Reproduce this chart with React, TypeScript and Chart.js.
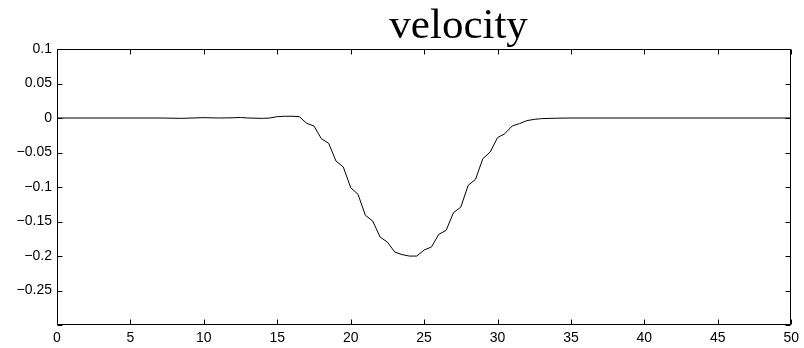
import React, { useEffect, useRef } from "react";
import { Chart, registerables } from "chart.js";

Chart.register(...registerables);

// Sample times (s) and velocity readings
const times: number[] = [
  0, 7, 8.5, 10, 11, 12, 12.5, 13, 14, 14.5, 15, 15.5, 16, 16.5, 17, 17.5, 18,
  18.5, 19, 19.5, 20, 20.5, 21, 21.5, 22, 22.5, 23, 23.5, 24, 24.5, 25, 25.5,
  26, 26.5, 27, 27.5, 28, 28.5, 29, 29.5, 30, 30.5, 31, 31.5, 32, 32.5, 33, 34,
  35, 50,
];
const velocity: number[] = [
  0, 0, -0.0005, 0.0005, 0, 0.0003, 0.0008, 0, -0.0005, 0, 0.002, 0.0025,
  0.0025, 0.002, -0.0077, -0.0116, -0.03, -0.0367, -0.0624, -0.0711, -0.101,
  -0.1106, -0.141, -0.1493, -0.1725, -0.1798, -0.1943, -0.198, -0.2001,
  -0.2001, -0.1913, -0.187, -0.1686, -0.1628, -0.1372, -0.1291, -0.0976,
  -0.0889, -0.0589, -0.0493, -0.0285, -0.0227, -0.0116, -0.0081, -0.0038,
  -0.002, -0.0009, -0.0003, 0, 0,
];

const titleText = "velocity";
const xRange = { min: 0, max: 50, step: 5 };
const yRange = { min: -0.3, max: 0.1, step: 0.05 };

const TICK_FONT = { family: "'Liberation Sans', Arial, sans-serif", size: 14 };

function formatY(v: number): string {
  if (Math.abs(v - yRange.min) < 1e-9) return "";
  const n = Number(v.toFixed(2));
  return n < 0 ? "\u2212" + String(-n) : String(n);
}

// Frame box, inward tick marks on all four sides, and the title
const framePlugin = {
  id: "frame",
  afterDraw(chart: any) {
    const { ctx, chartArea, scales } = chart;
    const l = Math.round(chartArea.left) + 0.5;
    const r = Math.round(chartArea.right) - 0.5;
    const t = Math.round(chartArea.top) + 0.5;
    const b = Math.round(chartArea.bottom) - 0.5;
    const len = 5;
    ctx.save();
    ctx.strokeStyle = "#000";
    ctx.lineWidth = 1;
    ctx.beginPath();
    ctx.rect(l, t, r - l, b - t);
    for (const tk of scales.x.ticks) {
      const px = Math.round(scales.x.getPixelForValue(tk.value)) + 0.5;
      ctx.moveTo(px, b);
      ctx.lineTo(px, b - len);
      ctx.moveTo(px, t);
      ctx.lineTo(px, t + len);
    }
    for (const tk of scales.y.ticks) {
      const py = Math.round(scales.y.getPixelForValue(tk.value)) + 0.5;
      ctx.moveTo(l, py);
      ctx.lineTo(l + len, py);
      ctx.moveTo(r, py);
      ctx.lineTo(r - len, py);
    }
    ctx.stroke();

    ctx.fillStyle = "#000";
    ctx.font = "43px 'Liberation Serif', 'Times New Roman', serif";
    ctx.textAlign = "center";
    ctx.textBaseline = "alphabetic";
    ctx.fillText(titleText, chartArea.left + (chartArea.right - chartArea.left) * 0.547, 38);
    ctx.restore();
  },
};

export default function App() {
  const canvasRef = useRef<HTMLCanvasElement | null>(null);

  useEffect(() => {
    const canvas = canvasRef.current;
    if (!canvas) return;
    const points = times.map((t, i) => ({ x: t, y: velocity[i] }));
    const chart = new Chart(canvas, {
      type: "line",
      data: {
        datasets: [
          {
            data: points,
            borderColor: "#000",
            borderWidth: 1,
            pointRadius: 0,
            tension: 0,
            fill: false,
          },
        ],
      },
      options: {
        responsive: false,
        animation: false,
        devicePixelRatio: 1,
        layout: { padding: { top: 49, right: 11, left: 0, bottom: 0 } },
        plugins: {
          legend: { display: false },
          title: { display: false },
          tooltip: { enabled: false },
        },
        scales: {
          x: {
            type: "linear",
            min: xRange.min,
            max: xRange.max,
            grid: { display: false, drawTicks: false },
            border: { display: false },
            ticks: {
              stepSize: xRange.step,
              autoSkip: false,
              maxRotation: 0,
              padding: 5,
              color: "#000",
              font: TICK_FONT,
            },
            afterFit(scale: any) {
              scale.height = 23;
            },
          },
          y: {
            type: "linear",
            min: yRange.min,
            max: yRange.max,
            grid: { display: false, drawTicks: false },
            border: { display: false },
            ticks: {
              stepSize: yRange.step,
              autoSkip: false,
              padding: 5,
              color: "#000",
              font: TICK_FONT,
              callback: (v: any) => formatY(Number(v)),
            },
            afterFit(scale: any) {
              scale.width = 57;
            },
          },
        },
      },
      plugins: [framePlugin],
    });
    return () => chart.destroy();
  }, []);

  return (
    <div style={{ position: "fixed", left: 0, top: 0, width: 804, height: 348, background: "#fff" }}>
      <canvas ref={canvasRef} width={804} height={348} style={{ display: "block" }} />
    </div>
  );
}
